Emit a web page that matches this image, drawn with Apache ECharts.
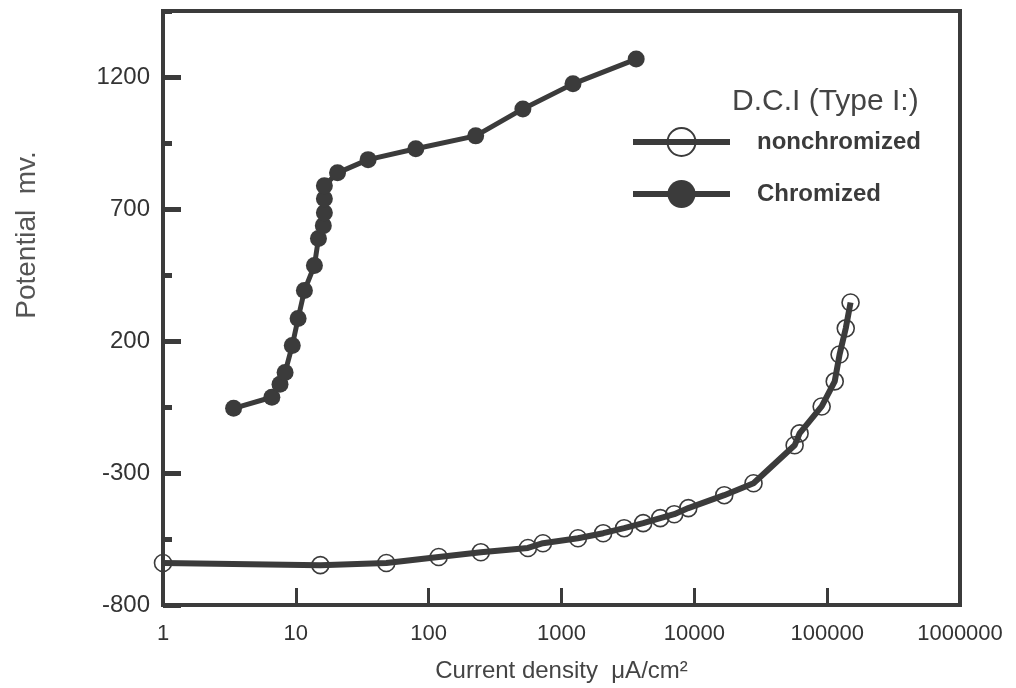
<!DOCTYPE html>
<html>
<head>
<meta charset="utf-8">
<title>Potential vs current density</title>
<script src="https://cdn.jsdelivr.net/npm/echarts@6/dist/echarts.min.js"></script>
<style>
  html, body { margin: 0; padding: 0; background: #fff; }
  #chart { width: 1016px; height: 688px; }
</style>
</head>
<body>
<div id="chart"></div>
<script>
// Polarization data: current density (µA/cm²) and potential (mV)
const nonchromizedCurrent = [1, 15.3, 48, 119, 247, 559, 725, 1330, 2060, 2960, 4120, 5540, 7060, 9010, 16800, 27900, 56900, 62000, 90900, 114000, 124000, 138000, 150000];
const nonchromizedPotential = [-641, -649, -641, -618, -600, -584, -566, -547, -528, -509, -490, -471, -456, -433, -384, -339, -195, -150, -48, 47, 149, 248, 346];

const chromizedCurrent = [3.4, 6.6, 7.6, 8.3, 9.4, 10.4, 11.6, 13.8, 14.8, 16.1, 16.4, 16.4, 16.4, 20.6, 35, 80, 226, 512, 1220, 3650];
const chromizedPotential = [-55, -13, 36, 81, 183, 285, 391, 486, 588, 637, 686, 739, 788, 837, 887, 928, 977, 1079, 1174, 1268];

const xTickValues = [1, 10, 100, 1000, 10000, 100000, 1000000];
const yTickValues = [-800, -300, 200, 700, 1200];

const legendTitle = 'D.C.I (Type I:)';
const seriesNames = ['nonchromized', 'Chromized'];

const zip = (xs, ys) => xs.map((x, i) => [x, ys[i]]);

const ink = '#3b3b3b';
const font = '"Liberation Sans", Arial, sans-serif';

const chart = echarts.init(document.getElementById('chart'), null, { renderer: 'canvas' });

chart.setOption({
  backgroundColor: '#ffffff',
  animation: false,
  title: {
    text: legendTitle,
    left: 727,
    top: 82,
    textStyle: { fontFamily: font, fontSize: 30, fontWeight: 'normal', color: '#444' }
  },
  legend: {
    orient: 'vertical',
    left: 630,
    top: 127,
    padding: 0,
    itemWidth: 97,
    itemHeight: 35,
    itemGap: 23,
    data: seriesNames,
    lineStyle: { width: 6 },
    textStyle: { fontFamily: font, fontSize: 24, fontWeight: 'bold', color: ink, padding: [0, 0, 0, 22] }
  },
  grid: {
    left: 163,
    right: 56,
    top: 11,
    bottom: 83,
    show: true,
    borderColor: ink,
    borderWidth: 4,
    containLabel: false,
    outerBoundsMode: 'none'
  },
  xAxis: {
    type: 'log',
    logBase: 10,
    min: 1,
    max: 1000000,
    name: 'Current density  μA/cm²',
    nameLocation: 'middle',
    nameGap: 54,
    nameTextStyle: { fontFamily: font, fontSize: 24, color: '#444' },
    axisLine: { show: true, onZero: false, lineStyle: { color: ink, width: 4 } },
    axisTick: { show: true, inside: true, length: 17, lineStyle: { color: ink, width: 3 } },
    minorTick: { show: false },
    splitLine: { show: false },
    axisLabel: {
      margin: 18,
      fontFamily: font,
      fontSize: 22,
      color: '#333',
      formatter: v => (xTickValues.includes(Math.round(v)) ? String(Math.round(v)) : '')
    }
  },
  yAxis: [
    {
      type: 'value',
      min: -800,
      max: 1450,
      interval: 500,
      axisLine: { show: true, onZero: false, lineStyle: { color: ink, width: 4 } },
      axisTick: { show: true, inside: true, length: 18, lineStyle: { color: ink, width: 5 } },
      splitLine: { show: false },
      axisLabel: {
        margin: 13,
        showMaxLabel: false,
        fontFamily: font,
        fontSize: 24,
        color: '#333',
        formatter: v => (yTickValues.includes(v) ? String(v) : '')
      }
    },
    {
      // half-step tick marks along the same left edge
      type: 'value',
      position: 'left',
      min: -800,
      max: 1450,
      interval: 250,
      axisLine: { show: false, onZero: false },
      axisTick: { show: true, inside: true, length: 9, lineStyle: { color: ink, width: 5 } },
      axisLabel: { show: false },
      splitLine: { show: false }
    }
  ],
  graphic: [
    {
      type: 'text',
      x: 27,
      y: 235,
      rotation: Math.PI / 2,
      style: {
        text: 'Potential  mv.',
        font: '28px ' + font,
        fill: '#555',
        textAlign: 'center',
        textVerticalAlign: 'middle'
      }
    }
  ],
  series: [
    {
      name: seriesNames[0],
      type: 'line',
      yAxisIndex: 0,
      clip: false,
      smooth: false,
      data: zip(nonchromizedCurrent, nonchromizedPotential),
      symbol: 'circle',
      symbolSize: 17,
      lineStyle: { color: ink, width: 6 },
      itemStyle: { color: 'rgba(255,255,255,0)', borderColor: ink, borderWidth: 1.6 },
      emphasis: { disabled: true }
    },
    {
      name: seriesNames[1],
      type: 'line',
      yAxisIndex: 0,
      clip: false,
      data: zip(chromizedCurrent, chromizedPotential),
      symbol: 'circle',
      symbolSize: 17,
      lineStyle: { color: ink, width: 5 },
      itemStyle: { color: ink, borderColor: ink, borderWidth: 0 },
      emphasis: { disabled: true }
    }
  ]
});
</script>
</body>
</html>
